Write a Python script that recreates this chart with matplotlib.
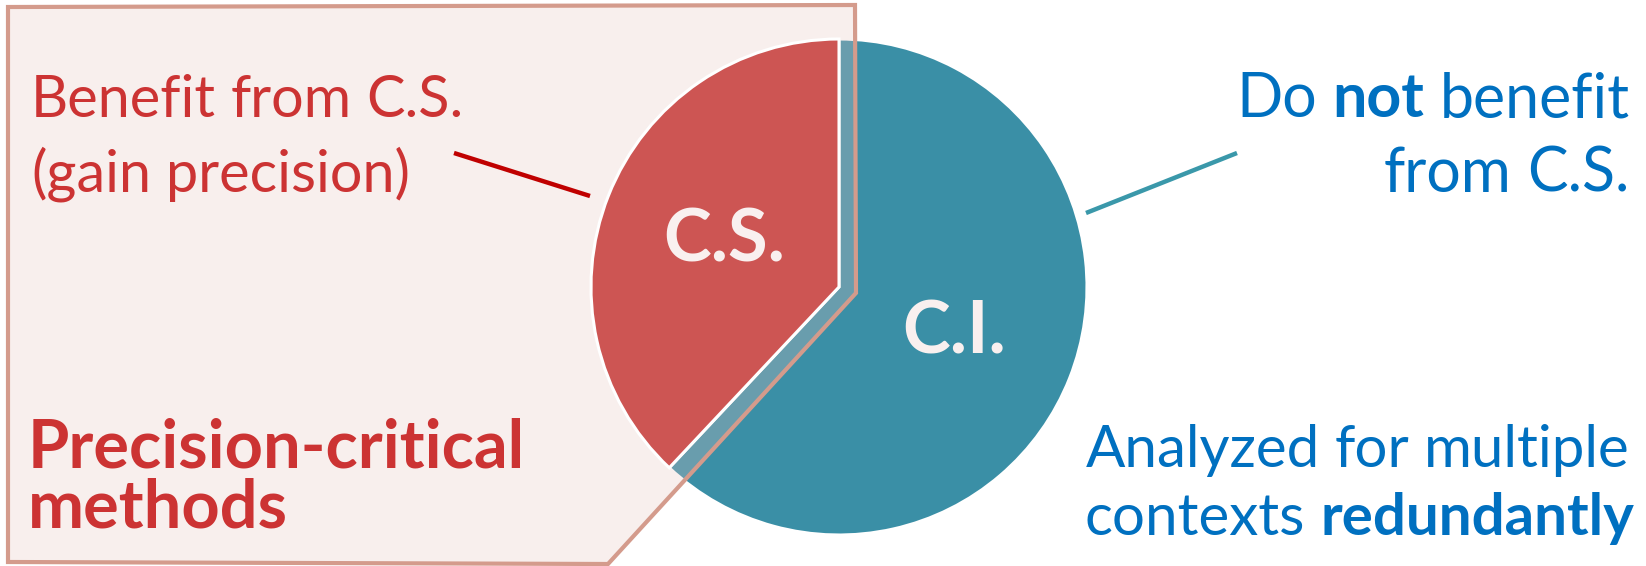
import matplotlib.pyplot as plt
from matplotlib.patches import Polygon

# canvas in pixels, y grows downward like the source slide
W, H = 1646, 566

labels = ["C.S.", "C.I."]
shares = [38, 62]
slice_colors = ["#CD5553", "#3A8FA6"]

left_note = ["Benefit from C.S.", "(gain precision)"]
left_title = ["Precision-critical", "methods"]
right_note = [[("Do", "normal"), ("not", "bold"), ("benefit", "normal")],
              [("from", "normal"), ("C.S.", "normal")]]
right_title = [[("Analyzed", "normal"), ("for", "normal"), ("multiple", "normal")],
               [("contexts", "normal"), ("redundantly", "bold")]]

RED_TXT = "#CC3333"
BLUE_TXT = "#0070C0"

plt.rcParams['font.family'] = ['Lato', 'DejaVu Sans']

fig = plt.figure(figsize=(W / 100, H / 100), dpi=100)
ax = fig.add_axes([0, 0, 1, 1])
ax.set_xlim(0, W)
ax.set_ylim(H, 0)
ax.set_aspect('equal')
ax.axis('off')
renderer = fig.canvas.get_renderer()


def text_w(s, size, weight="normal"):
    t = ax.text(0, 0, s, fontsize=size, fontweight=weight)
    w = t.get_window_extent(renderer).width
    t.remove()
    return w


def space_w(size):
    return text_w("n n", size) - text_w("nn", size)


def parts_w(parts, size):
    return (sum(text_w(s, size, wt) for s, wt in parts)
            + space_w(size) * (len(parts) - 1))


def fit(parts, width):
    # font size that makes the line as wide as in the slide
    return 10 * width / parts_w(parts, 10)


def rich_line(x, y, parts, size, color, ha="left"):
    sp = space_w(size)
    if ha == "right":
        x = x - parts_w(parts, size)
    for s, wt in parts:
        ax.text(x, y, s, fontsize=size, fontweight=wt, color=color,
                va='baseline', ha='left', zorder=6)
        x += text_w(s, size, wt) + sp


def as_parts(s, wt):
    return [(w, wt) for w in s.split()]


fs_left = 1.05 * (fit(as_parts(left_note[0], "normal"), 385)
                  + fit(as_parts(left_note[1], "normal"), 386)) / 2
fs_bold = (fit(as_parts(left_title[0], "bold"), 494)
           + fit(as_parts(left_title[1], "bold"), 263)) / 2
fs_rnote = (fit(right_note[0], 394) + fit(right_note[1], 247)) / 2
fs_rtitle = (fit(right_title[0], 546) + fit(right_title[1], 552)) / 2
fs_lab = fit([("C.S.", "bold")], 121)

# ---- pie ------------------------------------------------------------------
wedges, texts = ax.pie(shares, labels=labels, colors=slice_colors,
                       center=(839, 287), radius=248, startangle=-90,
                       counterclock=False, labeldistance=0.5, frame=True,
                       wedgeprops=dict(edgecolor="white", linewidth=2.2),
                       textprops=dict(color="#F9F0EF", fontsize=fs_lab,
                                      fontweight="bold"))
for t in texts:
    t.set_ha('center')
    t.set_va('center')
    t.set_zorder(6)
wedges[0].set_zorder(3)
wedges[1].set_zorder(1)
ax.set_xlim(0, W)
ax.set_ylim(H, 0)
ax.axis('off')

# ---- highlight box over the precision-critical side -----------------------
box = [(8, 7), (855, 5), (856, 293), (608, 564), (8, 562)]
ax.add_patch(Polygon(box, closed=True, facecolor="#E8C4C0", alpha=0.27,
                     edgecolor="none", zorder=2))
ax.add_patch(Polygon(box, closed=True, facecolor="none",
                     edgecolor="#D49B8C", linewidth=3, zorder=4))

# ---- leader lines ---------------------------------------------------------
ax.plot([454, 590], [153, 196], color="#C00000", lw=3.2,
        solid_capstyle='butt', zorder=5)
ax.plot([1086, 1237], [213, 153], color="#3A98AA", lw=3.2,
        solid_capstyle='butt', zorder=5)

# ---- texts ----------------------------------------------------------------
rich_line(31, 117, as_parts(left_note[0], "normal"), fs_left, RED_TXT)
rich_line(31, 192, as_parts(left_note[1], "normal"), fs_left, RED_TXT)
rich_line(28, 467, as_parts(left_title[0], "bold"), fs_bold, RED_TXT)
rich_line(28, 527, as_parts(left_title[1], "bold"), fs_bold, RED_TXT)

rich_line(1630, 117, right_note[0], fs_rnote, BLUE_TXT, ha="right")
rich_line(1630, 192, right_note[1], fs_rnote, BLUE_TXT, ha="right")
rich_line(1630, 467, right_title[0], fs_rtitle, BLUE_TXT, ha="right")
rich_line(1634, 535, right_title[1], fs_rtitle, BLUE_TXT, ha="right")

fig.savefig("out.png", dpi=100)
